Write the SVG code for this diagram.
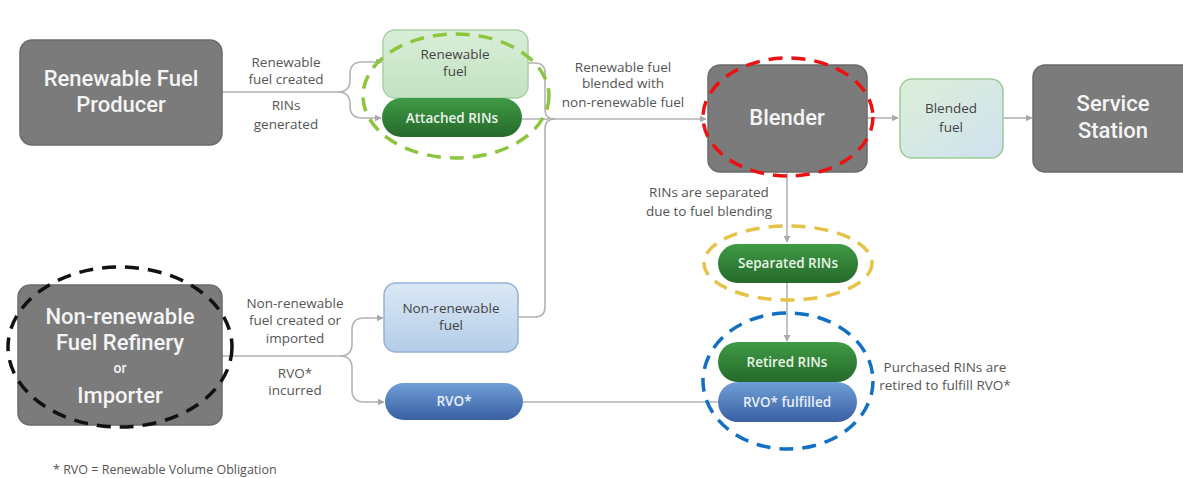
<svg xmlns="http://www.w3.org/2000/svg" width="1183" height="478" viewBox="0 0 1183 478">
<defs>
<marker id="arr" viewBox="0 0 10 10" refX="9" refY="5" markerWidth="7" markerHeight="7" markerUnits="userSpaceOnUse" orient="auto">
<path d="M0,0 L10,5 L0,10 z" fill="#a8a8a8"/>
</marker>
<linearGradient id="gDark" x1="0" y1="0" x2="0" y2="1">
<stop offset="0" stop-color="#3f9a45"/><stop offset="1" stop-color="#25692b"/>
</linearGradient>
<linearGradient id="gBlue" x1="0" y1="0" x2="0" y2="1">
<stop offset="0" stop-color="#6f9fd6"/><stop offset="1" stop-color="#3a5fa3"/>
</linearGradient>
<linearGradient id="gLightBlue" x1="0" y1="0" x2="0" y2="1">
<stop offset="0" stop-color="#dbe8f5"/><stop offset="1" stop-color="#b4cde8"/>
</linearGradient>
<linearGradient id="gLightGreen" x1="0" y1="0" x2="0" y2="1">
<stop offset="0" stop-color="#d9eed8"/><stop offset="1" stop-color="#c3e2c1"/>
</linearGradient>
<linearGradient id="gBlend" x1="0" y1="0" x2="1" y2="1">
<stop offset="0" stop-color="#dcefd8"/><stop offset="1" stop-color="#cfe1ef"/>
</linearGradient>
</defs>
<style>
.gray{fill:#7b7b7b;stroke:#6b6b6b;stroke-width:1.5}
.big{font-family:Roboto,"Liberation Sans",sans-serif;font-weight:500;fill:#f4f4f4;text-anchor:middle}
.lbl{font-family:"Open Sans","Noto Sans",sans-serif;font-size:13.5px;fill:#555;text-anchor:middle}
.nt{font-family:"Open Sans","Noto Sans",sans-serif;font-size:13.5px;fill:#444;text-anchor:middle}
.wt{font-family:"Open Sans","Noto Sans",sans-serif;font-size:13.5px;font-weight:600;fill:#e9f5e9;text-anchor:middle}
.conn{fill:none;stroke:#b3b3b3;stroke-width:1.6}
.dash{fill:none;stroke-width:3.5;stroke-dasharray:14 9}
</style>
<rect width="1183" height="478" fill="#ffffff"/>

<g id="connectors">
<path class="conn" d="M222,92 H338 Q350,92 350,80 V74 Q350,62 362,62 H382" marker-end="url(#arr)"/>
<path class="conn" d="M338,92 Q350,92 350,104 V106 Q350,118 362,118 H381" marker-end="url(#arr)"/>
<path class="conn" d="M528,63 H535 Q545,63 545,73 V110 Q545,119 555,119"/>
<path class="conn" d="M522,119 H706" marker-end="url(#arr)"/>
<path class="conn" d="M518,317 H535 Q545,317 545,307 V129 Q545,119 555,119"/>
<path class="conn" d="M867,118 H898" marker-end="url(#arr)"/>
<path class="conn" d="M1003,118 H1032" marker-end="url(#arr)"/>
<path class="conn" d="M787,172 V242" marker-end="url(#arr)"/>
<path class="conn" d="M787,283 V341" marker-end="url(#arr)"/>
<path class="conn" d="M222,356 H340 Q352,356 352,344 V330 Q352,318 364,318 H383" marker-end="url(#arr)"/>
<path class="conn" d="M340,356 Q352,356 352,368 V390 Q352,402 364,402 H384" marker-end="url(#arr)"/>
<path class="conn" d="M523,402 H718"/>
</g>

<g id="labels">
<text class="lbl" x="286" y="67">Renewable</text>
<text class="lbl" x="286" y="84">fuel created</text>
<text class="lbl" x="286" y="110">RINs</text>
<text class="lbl" x="286" y="129">generated</text>
<text class="lbl" x="623" y="72">Renewable fuel</text>
<text class="lbl" x="623" y="88">blended with</text>
<text class="lbl" x="623" y="107">non-renewable fuel</text>
<text class="lbl" x="709" y="197">RINs are separated</text>
<text class="lbl" x="709" y="216">due to fuel blending</text>
<text class="lbl" x="295" y="308">Non-renewable</text>
<text class="lbl" x="295" y="325">fuel created or</text>
<text class="lbl" x="295" y="343">imported</text>
<text class="lbl" x="295" y="378">RVO*</text>
<text class="lbl" x="295" y="395">incurred</text>
<text class="lbl" x="945" y="372">Purchased RINs are</text>
<text class="lbl" x="945" y="390">retired to fulfill RVO*</text>
<text class="lbl" x="53" y="474" style="text-anchor:start;font-size:12.5px">* RVO = Renewable Volume Obligation</text>
</g>

<g id="producer">
<rect class="gray" x="20" y="40" width="202" height="105" rx="12"/>
<text class="big" x="121" y="86" font-size="22">Renewable Fuel</text>
<text class="big" x="121" y="112" font-size="22">Producer</text>
</g>

<g id="renewable-fuel">
<rect x="383" y="30" width="145" height="68" rx="12" fill="url(#gLightGreen)" stroke="#a9d0a5" stroke-width="1.5"/>
<text class="nt" x="455" y="59">Renewable</text>
<text class="nt" x="455" y="76">fuel</text>
</g>

<g id="attached-rins">
<rect x="382" y="98" width="140" height="39" rx="19.5" fill="url(#gDark)"/>
<text class="wt" x="452" y="123">Attached RINs</text>
</g>

<g id="blender">
<rect class="gray" x="708" y="65" width="159" height="107" rx="12"/>
<text class="big" x="787" y="125" font-size="22">Blender</text>
</g>

<g id="blended-fuel">
<rect x="900" y="79" width="103" height="79" rx="12" fill="url(#gBlend)" stroke="#9dcb98" stroke-width="1.5"/>
<text class="nt" x="951" y="113">Blended</text>
<text class="nt" x="951" y="132">fuel</text>
</g>

<g id="service-station">
<rect class="gray" x="1033" y="65" width="170" height="107" rx="12"/>
<text class="big" x="1113" y="111" font-size="22">Service</text>
<text class="big" x="1113" y="138" font-size="22">Station</text>
</g>

<g id="separated-rins">
<rect x="718" y="244" width="140" height="39" rx="19.5" fill="url(#gDark)"/>
<text class="wt" x="788" y="268">Separated RINs</text>
</g>

<g id="retired-rins">
<rect x="718" y="342" width="139" height="40" rx="20" fill="url(#gDark)"/>
<text class="wt" x="787" y="367">Retired RINs</text>
</g>

<g id="rvo-fulfilled">
<rect x="718" y="382" width="139" height="40" rx="20" fill="url(#gBlue)"/>
<text class="wt" x="787" y="407" style="fill:#e8eef8">RVO* fulfilled</text>
</g>

<g id="refinery">
<rect class="gray" x="18" y="285" width="204" height="140" rx="12"/>
<text class="big" x="120" y="324" font-size="22">Non-renewable</text>
<text class="big" x="120" y="350" font-size="22">Fuel Refinery</text>
<text class="big" x="120" y="373" font-size="14">or</text>
<text class="big" x="120" y="403" font-size="22">Importer</text>
</g>

<g id="non-renewable-fuel">
<rect x="384" y="283" width="134" height="69" rx="12" fill="url(#gLightBlue)" stroke="#92b2d6" stroke-width="1.5"/>
<text class="nt" x="451" y="313">Non-renewable</text>
<text class="nt" x="451" y="330">fuel</text>
</g>

<g id="rvo">
<rect x="385" y="383" width="138" height="37" rx="18.5" fill="url(#gBlue)"/>
<text class="wt" x="454" y="406" style="fill:#e8eef8">RVO*</text>
</g>

<g id="highlights">
<ellipse class="dash" cx="456" cy="96" rx="93" ry="62" stroke="#8cc63f"/>
<ellipse class="dash" cx="788" cy="117" rx="85" ry="59" stroke="#ee1111"/>
<ellipse class="dash" cx="788" cy="263" rx="84" ry="37" stroke="#e5c349"/>
<ellipse class="dash" cx="788" cy="381" rx="85" ry="68" stroke="#1270c4"/>
<ellipse class="dash" cx="120" cy="347" rx="112" ry="80" stroke="#111111"/>
</g>
</svg>
